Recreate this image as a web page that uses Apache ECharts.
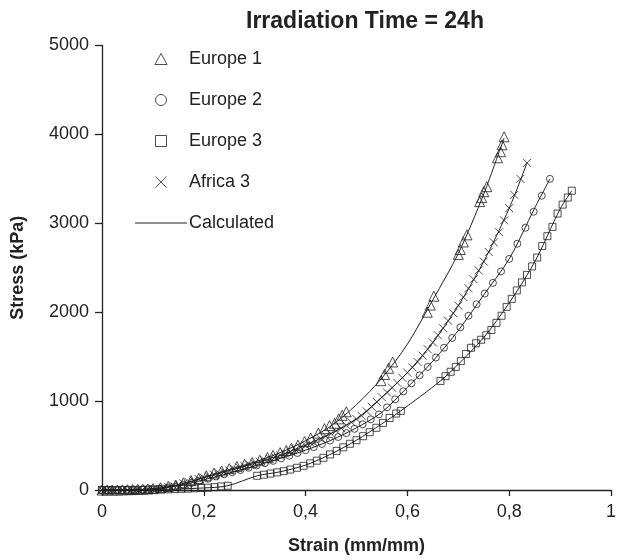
<!DOCTYPE html>
<html>
<head>
<meta charset="utf-8">
<title>Irradiation Time = 24h</title>
<script src="https://cdn.jsdelivr.net/npm/echarts@6/dist/echarts.min.js"></script>
<style>
    html, body { margin: 0; padding: 0; background: #fff; }
    #chart { width: 619px; height: 560px; }
</style>
</head>
<body>
<div id="chart"></div>
<script>
// strain (mm/mm), stress (kPa)
var europe1 = [
    [0.000, 0], [0.010, 0], [0.020, 0], [0.030, 0], [0.040, 2], [0.050, 3], [0.060, 5], [0.070, 7],
    [0.080, 9], [0.090, 12], [0.100, 15], [0.115, 25], [0.130, 40], [0.145, 55], [0.160, 80],
    [0.175, 105], [0.190, 130], [0.205, 160], [0.220, 190], [0.235, 215], [0.250, 240], [0.265, 265],
    [0.280, 290], [0.295, 310], [0.310, 335], [0.325, 365], [0.336, 390], [0.350, 420], [0.362, 445],
    [0.372, 470], [0.385, 505], [0.398, 545], [0.410, 585], [0.425, 640], [0.437, 690], [0.447, 725],
    [0.457, 750], [0.465, 800], [0.472, 840], [0.480, 880],
    [0.548, 1230], [0.555, 1300], [0.563, 1370], [0.571, 1440],
    [0.639, 2000], [0.645, 2080], [0.652, 2180],
    [0.700, 2650], [0.704, 2705], [0.710, 2790], [0.717, 2870],
    [0.742, 3244], [0.746, 3289], [0.750, 3356], [0.756, 3412],
    [0.777, 3737], [0.783, 3805], [0.786, 3883], [0.790, 3973]
];
var europe2 = [
    [0.000, 0], [0.016, 0], [0.032, 0], [0.048, 1], [0.064, 2], [0.080, 4], [0.096, 7], [0.112, 14],
    [0.128, 24], [0.144, 38], [0.160, 58], [0.176, 80], [0.192, 103], [0.208, 127], [0.224, 152],
    [0.240, 176], [0.256, 200], [0.272, 225], [0.288, 250], [0.304, 276], [0.320, 302], [0.336, 328],
    [0.352, 356], [0.368, 385], [0.384, 416], [0.400, 448], [0.416, 482], [0.432, 518], [0.448, 556],
    [0.464, 596], [0.480, 640], [0.496, 688], [0.512, 740], [0.528, 795], [0.544, 850], [0.560, 930],
    [0.576, 1020], [0.592, 1110], [0.608, 1200], [0.624, 1290], [0.640, 1385], [0.656, 1490],
    [0.672, 1600], [0.688, 1710], [0.704, 1830], [0.720, 1960], [0.736, 2090], [0.752, 2210],
    [0.768, 2330], [0.784, 2460], [0.800, 2600], [0.816, 2770], [0.832, 2950], [0.848, 3130],
    [0.864, 3310], [0.880, 3500]
];
var europe3 = [
    [0.000, 0], [0.013, 0], [0.026, 0], [0.039, 0], [0.052, 0], [0.065, 1], [0.078, 2], [0.091, 3],
    [0.104, 4], [0.117, 6], [0.130, 8], [0.143, 10], [0.156, 13], [0.169, 16], [0.182, 19], [0.195, 22],
    [0.208, 26], [0.221, 32], [0.234, 40], [0.247, 48],
    [0.305, 160], [0.318, 172], [0.331, 185], [0.344, 198], [0.357, 212], [0.370, 230], [0.383, 250],
    [0.396, 272], [0.409, 300], [0.422, 330], [0.435, 362], [0.448, 400], [0.461, 440], [0.474, 480],
    [0.487, 520], [0.500, 560], [0.513, 605], [0.526, 650], [0.539, 700], [0.552, 755], [0.565, 810],
    [0.578, 860], [0.587, 890],
    [0.665, 1227], [0.675, 1280], [0.685, 1330], [0.695, 1385], [0.705, 1450], [0.715, 1530],
    [0.725, 1600], [0.735, 1650], [0.745, 1690], [0.755, 1740], [0.765, 1800], [0.775, 1880],
    [0.785, 1960], [0.795, 2060], [0.805, 2150], [0.815, 2245], [0.825, 2335], [0.835, 2420],
    [0.845, 2515], [0.855, 2615], [0.865, 2745], [0.875, 2855], [0.885, 2960], [0.895, 3110],
    [0.905, 3210], [0.915, 3290], [0.923, 3367]
];
var africa3 = [
    [0.000, 0], [0.010, 0], [0.020, 0], [0.030, 0], [0.040, 1], [0.050, 2], [0.060, 3], [0.070, 4],
    [0.080, 6], [0.090, 8], [0.100, 11], [0.110, 16], [0.120, 24], [0.130, 34], [0.140, 46],
    [0.150, 60], [0.160, 75], [0.170, 90], [0.180, 105], [0.190, 122], [0.200, 138], [0.210, 155],
    [0.220, 172], [0.230, 188], [0.240, 205], [0.250, 220], [0.260, 236], [0.270, 252], [0.280, 268],
    [0.290, 284], [0.300, 300], [0.310, 317], [0.320, 334], [0.330, 352], [0.340, 371], [0.350, 390],
    [0.360, 410], [0.370, 433], [0.380, 456], [0.390, 480], [0.400, 503], [0.410, 527], [0.420, 550],
    [0.430, 577], [0.440, 605], [0.450, 635], [0.460, 665], [0.470, 695], [0.480, 728], [0.490, 762],
    [0.500, 798], [0.510, 835], [0.520, 885], [0.530, 936], [0.540, 990], [0.550, 1043],
    [0.560, 1097], [0.570, 1150], [0.580, 1207], [0.590, 1263], [0.600, 1320], [0.610, 1380],
    [0.620, 1440], [0.630, 1510], [0.640, 1583], [0.650, 1660], [0.660, 1740], [0.670, 1820],
    [0.680, 1903], [0.690, 1990], [0.700, 2075], [0.710, 2170], [0.720, 2270], [0.730, 2370],
    [0.740, 2470], [0.750, 2570], [0.760, 2677], [0.770, 2785], [0.780, 2900], [0.790, 3033],
    [0.800, 3170], [0.810, 3320], [0.822, 3500], [0.835, 3680]
];

// calculated curves
var calcEurope1 = [
    [0, 0], [0.05, 2], [0.1, 14], [0.15, 55], [0.2, 140], [0.25, 230], [0.3, 315], [0.35, 420],
    [0.4, 555], [0.45, 720], [0.5, 960], [0.55, 1260], [0.6, 1640], [0.65, 2140], [0.7, 2660],
    [0.75, 3330], [0.79, 3960]
];
var calcEurope2 = [
    [0, 0], [0.05, 1], [0.1, 9], [0.15, 48], [0.2, 115], [0.25, 190], [0.3, 270], [0.35, 355],
    [0.4, 448], [0.45, 560], [0.5, 700], [0.55, 875], [0.6, 1155], [0.65, 1450], [0.7, 1795],
    [0.75, 2195], [0.8, 2600], [0.85, 3170], [0.88, 3500]
];
var calcEurope3 = [
    [0, 0], [0.1, 4], [0.2, 23], [0.247, 48], [0.305, 160], [0.35, 205], [0.4, 280], [0.45, 405],
    [0.5, 560], [0.55, 745], [0.587, 890], [0.665, 1227], [0.7, 1415], [0.75, 1715], [0.8, 2105],
    [0.85, 2565], [0.9, 3160], [0.923, 3367]
];
var calcAfrica3 = [
    [0, 0], [0.05, 1], [0.1, 12], [0.15, 60], [0.2, 138], [0.25, 220], [0.3, 300], [0.35, 390],
    [0.4, 505], [0.45, 635], [0.5, 800], [0.55, 1045], [0.6, 1320], [0.65, 1660], [0.7, 2075],
    [0.75, 2570], [0.8, 3170], [0.835, 3680]
];

var legendNames = ['Europe 1', 'Europe 2', 'Europe 3', 'Africa 3', 'Calculated'];
var xTicks = ['0', '0,2', '0,4', '0,6', '0,8', '1'];

var ink = '#222';
var fontFamily = 'Liberation Sans, Arial, Helvetica, sans-serif';
var crossPath = 'path://M0,0L10,10M10,0L0,10';

var markerStyle = {
    color: 'rgba(0,0,0,0)',
    borderColor: ink,
    borderWidth: 1
};

var scatterSeries = function (name, data, symbol, size) {
    return {
        name: name,
        type: 'scatter',
        data: data,
        symbol: symbol,
        symbolSize: size,
        itemStyle: markerStyle,
        z: 2
    };
};

var lineSeries = function (data) {
    return {
        name: 'Calculated',
        type: 'line',
        data: data,
        smooth: 0.3,
        symbol: 'none',
        lineStyle: { color: ink, width: 1 },
        itemStyle: { color: ink },
        z: 3
    };
};

// legend icons as paths so they keep their aspect inside the wide item box
var legendIcons = [
    'path://M5,0L10,9L0,9Z',
    'circle',
    'path://M0,0h8v8h-8z',
    crossPath,
    'path://M0,0h52v1.2h-52z'
];

var legendData = legendNames.map(function (name, i) {
    var item = { name: name, icon: legendIcons[i] };
    if (name === 'Calculated') {
        item.itemStyle = { color: ink, borderWidth: 0 };
    } else {
        item.itemStyle = markerStyle;
    }
    return item;
});

var chart = echarts.init(document.getElementById('chart'));

var option = {
    animation: false,
    backgroundColor: '#fff',
    title: {
        text: 'Irradiation Time = 24h',
        left: 241,
        top: 5,
        textStyle: { fontFamily: fontFamily, fontSize: 23, fontWeight: 'bold', color: ink }
    },
    legend: {
        data: legendData,
        orient: 'vertical',
        left: 130,
        top: 45,
        itemWidth: 52,
        itemHeight: 11,
        itemGap: 23,
        symbolKeepAspect: true,
        textStyle: { fontFamily: fontFamily, fontSize: 18, color: ink, padding: [0, 0, 0, -3] }
    },
    grid: {
        left: 102,
        right: 4,
        top: 45.5,
        bottom: 68.5,
        containLabel: false
    },
    xAxis: {
        type: 'value',
        min: 0,
        max: 1,
        interval: 0.2,
        name: 'Strain (mm/mm)',
        nameLocation: 'middle',
        nameGap: 47,
        nameTextStyle: { fontFamily: fontFamily, fontSize: 18, fontWeight: 'bold', color: ink },
        axisLine: { onZero: false, lineStyle: { color: ink, width: 1.3 } },
        axisTick: { inside: false, length: 6, lineStyle: { color: ink, width: 1.3 } },
        axisLabel: {
            fontFamily: fontFamily,
            fontSize: 18,
            color: ink,
            margin: 13,
            formatter: function (v) {
                return xTicks[Math.round(v / 0.2)];
            }
        },
        splitLine: { show: false }
    },
    yAxis: {
        type: 'value',
        min: 0,
        max: 5000,
        interval: 1000,
        name: 'Stress (kPa)',
        nameLocation: 'middle',
        nameGap: 75,
        nameTextStyle: { fontFamily: fontFamily, fontSize: 18, fontWeight: 'bold', color: ink },
        axisLine: { show: true, lineStyle: { color: ink, width: 1.3 } },
        axisTick: { show: true, inside: false, length: 7, lineStyle: { color: ink, width: 1.3 } },
        axisLabel: {
            fontFamily: fontFamily,
            fontSize: 18,
            color: ink,
            margin: 13,
            formatter: function (v) {
                return String(v);
            }
        },
        splitLine: { show: false }
    },
    series: [
        scatterSeries('Europe 1', europe1, 'triangle', 10),
        scatterSeries('Europe 2', europe2, 'circle', 7),
        scatterSeries('Europe 3', europe3, 'rect', 7),
        scatterSeries('Africa 3', africa3, crossPath, 8),
        lineSeries(calcEurope1),
        lineSeries(calcEurope2),
        lineSeries(calcEurope3),
        lineSeries(calcAfrica3)
    ]
};

chart.setOption(option);
</script>
</body>
</html>
